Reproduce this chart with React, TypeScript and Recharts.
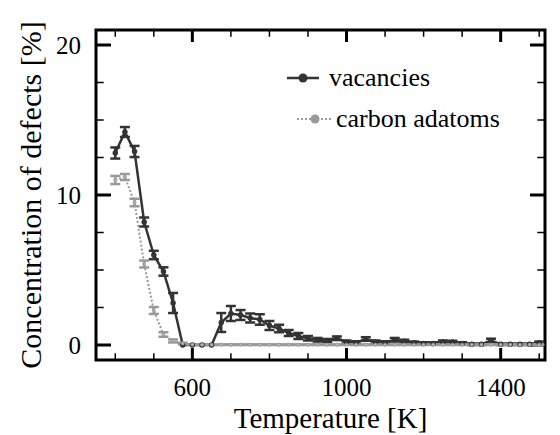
import React from 'react';
import { LineChart, Line, XAxis, YAxis, ErrorBar, ReferenceArea, ReferenceLine, Legend } from 'recharts';

const FONT = "'Liberation Serif', 'Nimbus Roman', 'Times New Roman', Times, 'DejaVu Serif', serif";

const temperatures = [
  400, 425, 450, 475, 500, 525, 550, 575, 600, 625, 650, 675, 700, 725, 750,
  775, 800, 825, 850, 875, 900, 925, 950, 975, 1000, 1025, 1050, 1075, 1100, 1125,
  1150, 1175, 1200, 1225, 1250, 1275, 1300, 1325, 1350, 1375, 1400, 1425, 1450, 1475, 1500,
];

const vacancies = [
  12.8, 14.2, 12.9, 8.2, 6.0, 4.9, 2.8, 0, 0, 0, 0, 1.5, 2.1, 2.0, 1.8,
  1.7, 1.3, 1.1, 0.8, 0.6, 0.45, 0.35, 0.3, 0.45, 0.2, 0.15, 0.4, 0.2, 0.15, 0.35,
  0.25, 0.15, 0.1, 0.1, 0.2, 0.2, 0.1, 0.05, 0.05, 0.3, 0.05, 0.05, 0.05, 0.05, 0.15,
];

const vacancyErrors = [
  0.37, 0.33, 0.37, 0.3, 0.28, 0.28, 0.67, 0, 0, 0, 0, 0.63, 0.5, 0.33, 0.3,
  0.35, 0.3, 0.25, 0.2, 0.2, 0.15, 0.12, 0.1, 0.12, 0.1, 0.1, 0.12, 0.1, 0.1, 0.12,
  0.1, 0.08, 0.08, 0.08, 0.1, 0.08, 0.08, 0.05, 0.05, 0.12, 0.05, 0.05, 0.05, 0.05, 0.08,
];

const adatoms = [
  11.0, 11.2, 9.5, 5.4, 2.3, 0.7, 0.27, 0.1, 0.03, 0.02, 0.02, 0.02, 0.02, 0.02, 0.02,
  0.02, 0.02, 0.02, 0.02, 0.02, 0.02, 0.02, 0.02, 0.02, 0.02, 0.02, 0.02, 0.02, 0.02, 0.02,
  0.02, 0.02, 0.02, 0.02, 0.02, 0.02, 0.02, 0.02, 0.02, 0.02, 0.02, 0.02, 0.02, 0.02, 0.02,
];

const adatomErrors = [
  0.27, 0.2, 0.25, 0.23, 0.23, 0.15, 0.1, 0.05, 0.02, 0.02, 0.02, 0.02, 0.02, 0.02, 0.02,
  0.02, 0.02, 0.02, 0.02, 0.02, 0.02, 0.02, 0.02, 0.02, 0.02, 0.02, 0.02, 0.02, 0.02, 0.02,
  0.02, 0.02, 0.02, 0.02, 0.02, 0.02, 0.02, 0.02, 0.02, 0.02, 0.02, 0.02, 0.02, 0.02, 0.02,
];

const xTicks = [600, 1000, 1400];
const xMinorTicks = [400, 500, 700, 800, 900, 1100, 1200, 1300, 1500];
const yTicks = [0, 10, 20];
const yMinorTicks = [2.5, 5, 7.5, 12.5, 15, 17.5];

const X_MIN = 350;
const X_MAX = 1515;
const Y_MIN = -1;
const Y_MAX = 21;

const data = temperatures.map((t, i) => ({
  t,
  vac: vacancies[i],
  vacErr: vacancyErrors[i],
  ad: adatoms[i],
  adErr: adatomErrors[i],
}));

const LegendBox = () => (
  <div style={{ position: 'relative', width: 270, height: 90, fontFamily: FONT, fontSize: 26, color: '#000' }}>
    <svg style={{ position: 'absolute', left: 3, top: 14 }} width={32} height={16}>
      <line x1={0} y1={8} x2={32} y2={8} stroke="#333" strokeWidth={2.5} />
      <circle cx={16} cy={8} r={4.5} fill="#333" />
    </svg>
    <div style={{ position: 'absolute', left: 45, top: 7, lineHeight: '30px', whiteSpace: 'nowrap' }}>vacancies</div>
    <svg style={{ position: 'absolute', left: 13, top: 55 }} width={36} height={16}>
      <line x1={0} y1={8} x2={36} y2={8} stroke="#999" strokeWidth={2} strokeDasharray="2 2" />
      <circle cx={18} cy={8} r={4.5} fill="#999" />
    </svg>
    <div style={{ position: 'absolute', left: 52, top: 48, lineHeight: '30px', whiteSpace: 'nowrap' }}>carbon adatoms</div>
  </div>
);

export default function App() {
  return (
    <div style={{ width: 552, height: 427, fontFamily: FONT }}>
      <LineChart width={552} height={427} data={data} margin={{ top: 22, right: 15, bottom: 0, left: 0 }} style={{ fontFamily: FONT }}>
        <XAxis
          dataKey="t"
          type="number"
          domain={[X_MIN, X_MAX]}
          ticks={xTicks}
          interval={0}
          allowDataOverflow
          axisLine={false}
          tickLine={false}
          tickSize={0}
          tickMargin={18}
          height={75}
          tick={{ fill: '#000', fontSize: 25, fontFamily: FONT }}
          label={{ value: 'Temperature [K]', position: 'insideBottom', offset: 7, dx: 10, fill: '#000', fontSize: 29, fontFamily: FONT }}
        />
        <YAxis
          type="number"
          domain={[Y_MIN, Y_MAX]}
          ticks={yTicks}
          interval={0}
          allowDataOverflow
          axisLine={false}
          tickLine={false}
          tickSize={0}
          tickMargin={15}
          width={88}
          tick={{ fill: '#000', fontSize: 25, fontFamily: FONT }}
          label={{ value: 'Concentration of defects [%]', angle: -90, position: 'center', dx: -22, fill: '#000', fontSize: 30, fontFamily: FONT }}
        />

        {xTicks.map((t) => (
          <ReferenceLine key={`xb${t}`} segment={[{ x: t, y: Y_MIN }, { x: t, y: Y_MIN + 0.8 }]} stroke="#000" strokeWidth={3} />
        ))}
        {xTicks.map((t) => (
          <ReferenceLine key={`xt${t}`} segment={[{ x: t, y: Y_MAX }, { x: t, y: Y_MAX - 0.8 }]} stroke="#000" strokeWidth={3} />
        ))}
        {xMinorTicks.map((t) => (
          <ReferenceLine key={`xmb${t}`} segment={[{ x: t, y: Y_MIN }, { x: t, y: Y_MIN + 0.45 }]} stroke="#000" strokeWidth={1.5} />
        ))}
        {xMinorTicks.map((t) => (
          <ReferenceLine key={`xmt${t}`} segment={[{ x: t, y: Y_MAX }, { x: t, y: Y_MAX - 0.45 }]} stroke="#000" strokeWidth={1.5} />
        ))}
        {yTicks.map((v) => (
          <ReferenceLine key={`yl${v}`} segment={[{ x: X_MIN, y: v }, { x: X_MIN + 39, y: v }]} stroke="#000" strokeWidth={3} />
        ))}
        {yTicks.map((v) => (
          <ReferenceLine key={`yr${v}`} segment={[{ x: X_MAX, y: v }, { x: X_MAX - 39, y: v }]} stroke="#000" strokeWidth={3} />
        ))}
        {yMinorTicks.map((v) => (
          <ReferenceLine key={`yml${v}`} segment={[{ x: X_MIN, y: v }, { x: X_MIN + 20, y: v }]} stroke="#000" strokeWidth={1.5} />
        ))}
        {yMinorTicks.map((v) => (
          <ReferenceLine key={`ymr${v}`} segment={[{ x: X_MAX, y: v }, { x: X_MAX - 20, y: v }]} stroke="#000" strokeWidth={1.5} />
        ))}

        <ReferenceArea x1={X_MIN} x2={X_MAX} y1={Y_MIN} y2={Y_MAX} fill="none" fillOpacity={0} stroke="#000" strokeWidth={3} ifOverflow="visible" />

        <Line
          type="linear"
          dataKey="vac"
          stroke="#333"
          strokeWidth={2.5}
          dot={{ r: 1.5, fill: '#333', stroke: '#333' }}
          isAnimationActive={false}
        >
          <ErrorBar dataKey="vacErr" direction="y" width={5} stroke="#333" strokeWidth={2.5} isAnimationActive={false} />
        </Line>
        <Line
          type="linear"
          dataKey="ad"
          stroke="#999"
          strokeWidth={2}
          strokeDasharray="2 2"
          dot={{ r: 1.5, fill: '#bbb', stroke: '#999', strokeWidth: 1, strokeDasharray: '' }}
          isAnimationActive={false}
        >
          <ErrorBar dataKey="adErr" direction="y" width={5} stroke="#999" strokeWidth={2.5} isAnimationActive={false} />
        </Line>

        <Legend
          layout="horizontal"
          verticalAlign="middle"
          align="center"
          wrapperStyle={{ left: 276, top: 48, width: 270, height: 90 }}
          content={() => <LegendBox />}
        />
      </LineChart>
    </div>
  );
}
